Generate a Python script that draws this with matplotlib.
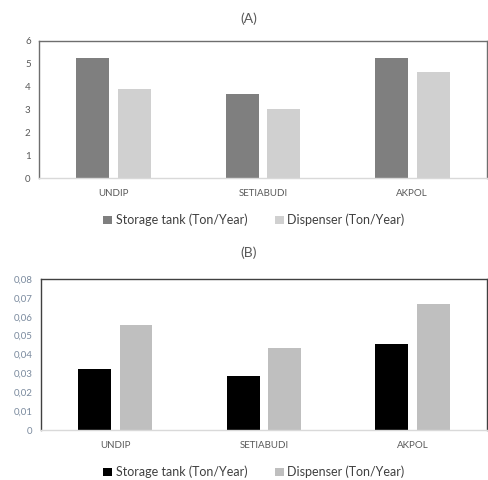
import matplotlib
matplotlib.use("Agg")
import matplotlib.pyplot as plt
from matplotlib.patches import Patch
import numpy as np

plt.rcParams['font.family'] = ['Lato', 'DejaVu Sans']

categories = ["UNDIP", "SETIABUDI", "AKPOL"]
storage_a = [5.26, 3.67, 5.26]
dispenser_a = [3.89, 3.04, 4.65]
storage_b = [0.0322, 0.0288, 0.0456]
dispenser_b = [0.0558, 0.0435, 0.0666]
yticks_a = [0, 1, 2, 3, 4, 5, 6]
yticks_b = [0, 0.01, 0.02, 0.03, 0.04, 0.05, 0.06, 0.07, 0.08]
ytick_labels_b = ["0", "0,01", "0,02", "0,03", "0,04", "0,05", "0,06", "0,07", "0,08"]
legend_labels = ["Storage tank (Ton/Year)", "Dispenser (Ton/Year)"]

fig = plt.figure(figsize=(4.88, 4.8), dpi=100)
W, H = 488, 480

def mk_ax(left, top, right, bottom):
    return fig.add_axes([left / W, 1 - bottom / H, (right - left) / W, (bottom - top) / H])

x = np.arange(len(categories))
bw = 0.22
off = 0.14

def style(ax, frame_col, tick_col):
    for s in ['left', 'top', 'right']:
        ax.spines[s].set_color(frame_col)
        ax.spines[s].set_linewidth(1.0)
    ax.spines['bottom'].set_color('#d9d9d9')
    ax.spines['bottom'].set_linewidth(1.0)
    ax.tick_params(length=0, labelsize=7, labelcolor=tick_col, pad=6)
    ax.set_xlim(-0.5, len(categories) - 0.5)
    ax.set_xticks(x)
    ax.set_xticklabels(categories, fontsize=7, color='#595959')
    ax.tick_params(axis='x', pad=8)

# Panel A
axA = mk_ax(39, 41, 487, 178)
axA.bar(x - off, storage_a, bw, color='#7f7f7f')
axA.bar(x + off, dispenser_a, bw, color='#d0d0d0')
axA.set_ylim(0, 6)
axA.set_yticks(yticks_a)
axA.set_yticklabels([str(v) for v in yticks_a])
style(axA, '#6e6e6e', '#595959')

# Panel B
axB = mk_ax(41, 279, 487, 430)
axB.bar(x - off, storage_b, bw, color='#000000')
axB.bar(x + off, dispenser_b, bw, color='#bfbfbf')
axB.set_ylim(0, 0.08)
axB.set_yticks(yticks_b)
axB.set_yticklabels(ytick_labels_b)
style(axB, '#404040', '#7a8a9e')

fig.text(249 / W, 1 - 19 / H, "(A)", ha='center', va='center', fontsize=10, color='#595959')
fig.text(249 / W, 1 - 253 / H, "(B)", ha='center', va='center', fontsize=10, color='#595959')

def legend(y, c1, c2):
    handles = [Patch(facecolor=c1), Patch(facecolor=c2)]
    fig.legend(handles, legend_labels, loc='center', bbox_to_anchor=(254 / W, 1 - y / H),
               ncol=2, frameon=False, fontsize=9, handlelength=0.7, handleheight=0.7,
               handletextpad=0.3, columnspacing=2.2, labelcolor='#404040')

legend(220, '#7f7f7f', '#d0d0d0')
legend(472, '#000000', '#bfbfbf')

fig.savefig("out.png", dpi=100)
